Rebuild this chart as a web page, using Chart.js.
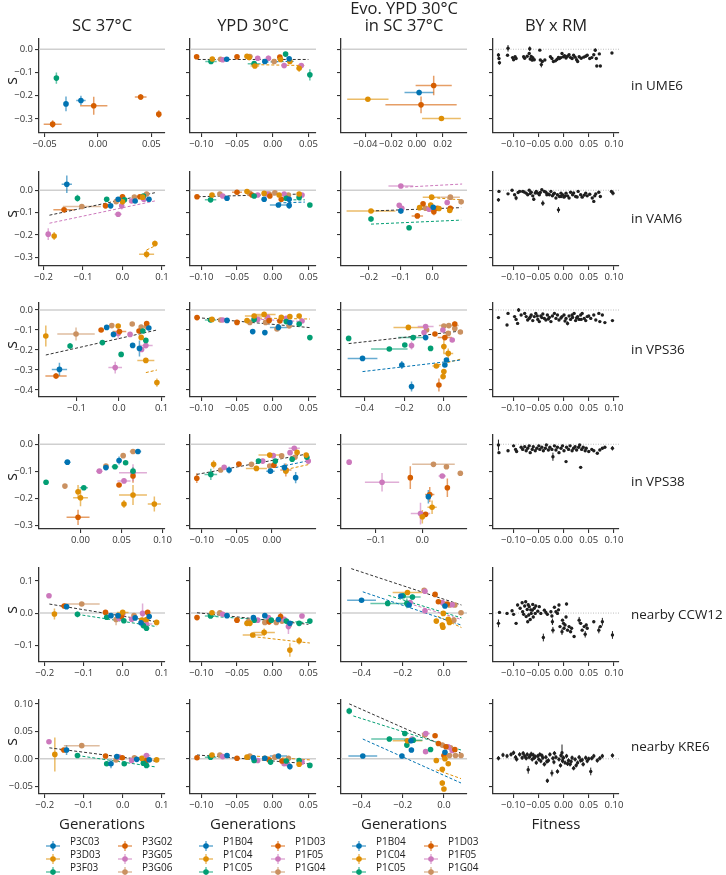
<!DOCTYPE html>
<html lang="en">
<head>
<meta charset="utf-8">
<title>s vs generations</title>
<script src="https://cdn.jsdelivr.net/npm/chart.js@4.4.1/dist/chart.umd.min.js"></script>
<style>
  html, body { margin: 0; padding: 0; background: #fff; }
  #fig { position: relative; width: 726px; height: 875px; overflow: hidden; font-family: "Open Sans", "DejaVu Sans", sans-serif; color: #222; }
  #fig canvas { position: absolute; }
  .txt { position: absolute; white-space: nowrap; line-height: 1; }
  .leg { position: absolute; }
</style>
</head>
<body>
<div id="fig"></div>
<script>
// ==================== LABELS ====================
const ROW_NAMES = ['in UME6', 'in VAM6', 'in VPS36', 'in VPS38', 'nearby CCW12', 'nearby KRE6'];
const COL_TITLES = [['SC 37°C'], ['YPD 30°C'], ['Evo. YPD 30°C', 'in SC 37°C'], ['BY x RM']];
const X_LABELS = ['Generations', 'Generations', 'Generations', 'Fitness'];
const STRAINS_SC = ['P3C03', 'P3D03', 'P3F03', 'P3G02', 'P3G05', 'P3G06'];
const STRAINS_YPD = ['P1B04', 'P1C04', 'P1C05', 'P1D03', 'P1F05', 'P1G04'];

// ==================== AXES ====================
const Y_RANGES = [[-0.36, 0.044], [-0.34, 0.082], [-0.435, 0.035], [-0.312, 0.034], [-0.152, 0.14], [-0.064, 0.107]];
const Y_TICKS = [
  [-0.3, -0.2, -0.1, 0], [-0.3, -0.2, -0.1, 0], [-0.4, -0.3, -0.2, -0.1, 0],
  [-0.3, -0.2, -0.1, 0], [-0.1, 0, 0.1], [-0.05, 0, 0.05, 0.1]
];
const X_FIT = [-0.1398, 0.110];
const X_FIT_TICKS = [-0.1, -0.05, 0, 0.05, 0.1];
const X_RANGES = [
  [[-0.0553, 0.0628], [-0.1158, 0.0606], [-0.0588, 0.0388], X_FIT],
  [[-0.2114, 0.1076], [-0.1158, 0.0606], [-0.2875, 0.1094], X_FIT],
  [[-0.188, 0.108], [-0.1158, 0.0606], [-0.5185, 0.1165], X_FIT],
  [[-0.0506, 0.103], [-0.1167, 0.063], [-0.1756, 0.0964], X_FIT],
  [[-0.2146, 0.1085], [-0.1158, 0.0606], [-0.4998, 0.112], X_FIT],
  [[-0.2146, 0.1085], [-0.1158, 0.0606], [-0.4998, 0.112], X_FIT]
];
const X_TICKS = [
  [[-0.05, 0, 0.05], [-0.1, -0.05, 0, 0.05], [-0.04, -0.02, 0, 0.02], X_FIT_TICKS],
  [[-0.2, -0.1, 0, 0.1], [-0.1, -0.05, 0, 0.05], [-0.2, -0.1, 0], X_FIT_TICKS],
  [[-0.1, 0, 0.1], [-0.1, -0.05, 0, 0.05], [-0.4, -0.2, 0], X_FIT_TICKS],
  [[0, 0.05, 0.1], [-0.1, -0.05, 0], [-0.1, 0], X_FIT_TICKS],
  [[-0.2, -0.1, 0, 0.1], [-0.1, -0.05, 0, 0.05], [-0.4, -0.2, 0], X_FIT_TICKS],
  [[-0.2, -0.1, 0, 0.1], [-0.1, -0.05, 0, 0.05], [-0.4, -0.2, 0], X_FIT_TICKS]
];

// ==================== DATA ====================
// evolved lines: [strain, generations, s, x error, s error]
// fits: [strain (-1 = all), x0, y0, x1, y1]
// BY x RM: [fitness, s, s error]
const UME6_SC = [
  [2,-0.039,-0.124,0.002,0.024],[0,-0.030,-0.235,0.002,0.032],[0,-0.016,-0.220,0.0044,0.020],
  [3,-0.004,-0.243,0.0128,0.039],[3,0.040,-0.205,0.0055,0.013],[3,0.057,-0.279,0.002,0.017],
  [3,-0.0425,-0.322,0.0084,0.017]
];
const UME6_YPD = [
  [3,-0.1065,-0.032,0.002,0.005],[2,-0.0864,-0.053,0.008,0.006],[1,-0.0846,-0.042,0.002,0.005],
  [5,-0.073,-0.043,0.002,0.004],[4,-0.070,-0.045,0.002,0.004],[0,-0.0644,-0.043,0.002,0.004],
  [3,-0.050,-0.032,0.003,0.004],[1,-0.036,-0.030,0.003,0.004],[5,-0.032,-0.031,0.004,0.004],
  [1,-0.033,-0.036,0.002,0.004],[2,-0.026,-0.062,0.009,0.010],[4,-0.021,-0.039,0.002,0.005],
  [1,-0.025,-0.072,0.006,0.008],[0,-0.011,-0.053,0.004,0.006],[4,-0.006,-0.039,0.003,0.012],
  [5,0.002,-0.053,0.004,0.006],[3,0.010,-0.034,0.003,0.006],[1,0.011,-0.044,0.003,0.006],
  [0,0.023,-0.041,0.003,0.004],[2,0.018,-0.021,0.002,0.006],[4,0.016,-0.070,0.003,0.012],
  [1,0.024,-0.053,0.004,0.005],[1,0.037,-0.082,0.003,0.016],[4,0.040,-0.070,0.003,0.006],
  [2,0.052,-0.110,0.002,0.024]
];
const UME6_YPD_FIT = [[-1,-0.105,-0.044,0.05,-0.044],[1,-0.03,-0.066,0.045,-0.070],[0,-0.01,-0.055,0.03,-0.052]];
const UME6_EVO = [
  [1,-0.038,-0.215,0.016,0.004],[0,0.0017,-0.186,0.0113,0.012],[3,0.013,-0.156,0.014,0.042],
  [3,0.0032,-0.239,0.0276,0.036],[1,0.019,-0.298,0.015,0.004]
];
const UME6_BXR = [
  [-0.129,-0.025,0.008],[-0.128,-0.040,0.006],[-0.127,-0.058,0.008],[-0.110,0.004,0.014],[-0.111,-0.026],
  [-0.101,-0.036],[-0.099,-0.045],[-0.096,-0.032],[-0.094,-0.040],[-0.079,-0.032],[-0.077,-0.039],
  [-0.072,-0.030],[-0.068,-0.018],[-0.067,0.002,0.010],[-0.066,-0.042],[-0.064,-0.031],[-0.062,-0.047],
  [-0.061,-0.036],[-0.058,-0.045],[-0.047,-0.004],[-0.046,-0.046],[-0.044,-0.066,0.012],[-0.042,-0.053],
  [-0.037,-0.046],[-0.026,-0.032],[-0.023,-0.040],[-0.020,-0.053],[-0.016,-0.050],[-0.013,-0.044],
  [-0.010,-0.035],[-0.008,-0.040],[-0.005,-0.036],[-0.003,-0.018],[0.000,-0.032],[0.002,-0.028],
  [0.005,-0.038],[0.008,-0.030],[0.011,-0.024],[0.014,-0.036],[0.017,-0.040],[0.020,-0.026],
  [0.023,-0.034],[0.026,-0.045],[0.028,-0.053],[0.031,-0.032],[0.035,-0.039],[0.040,-0.034],
  [0.044,-0.030],[0.047,-0.026],[0.052,-0.040],[0.056,-0.036],[0.060,-0.024],[0.063,-0.004,0.008],
  [0.065,-0.040],[0.066,-0.072],[0.071,-0.020],[0.073,-0.072],[0.096,-0.016]
];

const VAM6_SC = [
  [0,-0.141,0.027,0.013,0.039],[2,-0.114,-0.036,0.003,0.016],[3,-0.148,-0.088,0.027,0.006],
  [5,-0.103,-0.073,0.048,0.005],[2,-0.040,-0.040,0.003,0.005],[3,-0.043,-0.070,0.004,0.005],
  [0,-0.030,-0.070,0.003,0.005],[5,-0.016,-0.051,0.004,0.005],[4,-0.011,-0.108,0.009,0.006],
  [4,-0.002,-0.070,0.003,0.016],[3,0.000,-0.029,0.007,0.012],[1,0.000,-0.052,0.003,0.008],
  [0,-0.011,-0.040,0.003,0.005],[2,0.005,-0.043,0.003,0.006],[0,0.032,-0.048,0.004,0.005],
  [5,0.030,-0.031,0.004,0.005],[4,0.023,-0.048,0.004,0.005],[3,0.044,-0.029,0.003,0.005],
  [1,0.051,-0.031,0.004,0.005],[2,0.053,-0.026,0.003,0.005],[4,0.054,-0.040,0.004,0.005],
  [0,0.067,-0.040,0.003,0.005],[5,0.061,-0.017,0.004,0.006],[1,0.082,-0.239,0.003,0.013],
  [1,0.061,-0.287,0.019,0.018],[4,-0.188,-0.197,0.006,0.026],[1,-0.173,-0.205,0.004,0.018]
];
const VAM6_SC_FIT = [[-1,-0.185,-0.112,0.082,-0.011],[4,-0.185,-0.148,0.082,-0.048],[1,0.061,-0.268,0.082,-0.250]];
const VAM6_YPD = [
  [3,-0.106,-0.029,0.002,0.004],[2,-0.087,-0.043,0.008,0.005],[1,-0.085,-0.021,0.002,0.004],
  [5,-0.074,-0.017,0.002,0.004],[4,-0.070,-0.026,0.002,0.004],[0,-0.064,-0.036,0.002,0.004],
  [3,-0.050,-0.009,0.007,0.004],[1,-0.036,-0.006,0.003,0.004],[5,-0.032,-0.014,0.003,0.004],
  [3,-0.029,-0.021,0.002,0.004],[2,-0.026,-0.026,0.003,0.004],[4,-0.021,-0.021,0.002,0.004],
  [1,-0.012,-0.014,0.003,0.004],[0,-0.012,-0.040,0.002,0.005],[5,-0.005,-0.017,0.003,0.004],
  [4,-0.008,-0.017,0.003,0.004],[3,-0.004,-0.026,0.003,0.004],[5,0.003,-0.011,0.003,0.004],
  [1,0.009,-0.021,0.003,0.004],[0,0.008,-0.066,0.012,0.005],[3,0.012,-0.040,0.003,0.006],
  [4,0.016,-0.017,0.003,0.004],[2,0.019,-0.036,0.003,0.004],[0,0.023,-0.040,0.003,0.004],
  [0,0.023,-0.068,0.003,0.016],[5,0.022,-0.021,0.003,0.004],[1,0.037,-0.017,0.003,0.004],
  [2,0.037,-0.032,0.003,0.004],[4,0.041,-0.021,0.003,0.004],[2,0.052,-0.066,0.002,0.005]
];
const VAM6_YPD_FIT = [[-1,-0.105,-0.029,0.04,-0.017],[2,0.015,-0.043,0.045,-0.043],[0,0.008,-0.057,0.045,-0.053]];
const VAM6_EVO = [
  [4,-0.099,0.019,0.039,0.004],[1,-0.193,-0.093,0.077,0.004],[2,-0.193,-0.129,0.003,0.012],
  [2,-0.073,-0.168,0.003,0.005],[0,-0.099,-0.093,0.004,0.012],[4,-0.104,-0.067,0.003,0.010],
  [4,-0.096,-0.081,0.004,0.005],[1,-0.040,-0.078,0.006,0.005],[3,-0.029,-0.061,0.004,0.005],
  [5,-0.021,-0.081,0.012,0.005],[3,-0.047,-0.115,0.018,0.005],[1,-0.002,-0.031,0.028,0.005],
  [1,-0.005,-0.066,0.004,0.010],[0,0.003,-0.076,0.004,0.008],[4,-0.010,-0.085,0.005,0.005],
  [3,0.005,-0.096,0.004,0.016],[3,0.016,-0.081,0.004,0.006],[1,0.021,-0.082,0.004,0.005],
  [5,0.057,-0.031,0.030,0.005],[4,0.047,-0.055,0.005,0.005],[3,0.057,-0.081,0.004,0.012],
  [5,0.091,-0.052,0.004,0.005],[1,0.055,-0.091,0.004,0.005]
];
const VAM6_EVO_FIT = [[-1,-0.193,-0.093,0.091,-0.078],[2,-0.193,-0.152,0.091,-0.134],[1,0.0,-0.033,0.091,-0.043],[4,-0.101,0.013,0.094,0.028]];
const VAM6_BXR = [
  [-0.128,-0.005],[-0.129,-0.043,0.008],[-0.110,-0.016],[-0.102,0.0],[-0.097,-0.020],[-0.094,-0.035,0.010],
  [-0.090,-0.010],[-0.087,-0.005],[-0.081,-0.005],[-0.078,-0.008],[-0.074,-0.013],[-0.071,-0.020],
  [-0.068,0.0],[-0.066,-0.015],[-0.064,-0.009],[-0.061,-0.025],[-0.059,-0.040,0.008],[-0.056,-0.012],
  [-0.054,-0.005],[-0.051,-0.013],[-0.048,-0.020],[-0.046,-0.010],[-0.043,0.002],[-0.041,-0.058,0.012],
  [-0.038,-0.005],[-0.035,-0.009],[-0.033,-0.020],[-0.031,-0.016],[-0.028,-0.020],[-0.025,-0.005],
  [-0.022,-0.025],[-0.020,-0.018],[-0.018,-0.013],[-0.015,-0.035],[-0.012,-0.020],[-0.010,-0.088,0.013],
  [-0.008,-0.028],[-0.005,-0.013],[-0.005,-0.028],[-0.002,-0.020],[0.001,-0.031],[0.003,-0.025],
  [0.005,-0.013],[0.008,-0.025],[0.011,-0.035],[0.014,-0.009],[0.018,-0.020],[0.020,-0.012],
  [0.024,-0.028],[0.027,-0.030],[0.029,-0.005],[0.034,-0.020],[0.037,-0.031],[0.041,-0.022],
  [0.044,-0.013],[0.047,-0.025],[0.052,-0.018],[0.057,-0.035],[0.060,-0.050],[0.062,-0.025],
  [0.064,-0.016],[0.070,-0.009],[0.073,-0.028],[0.095,-0.005],[0.098,-0.013,0.010]
];

const VPS36_SC = [
  [1,-0.172,-0.130,0.003,0.052],[5,-0.101,-0.120,0.044,0.033],[2,-0.115,-0.180,0.003,0.015],
  [0,-0.140,-0.297,0.018,0.033],[3,-0.148,-0.330,0.025,0.015],[3,-0.042,-0.100,0.006,0.006],
  [0,-0.029,-0.087,0.003,0.006],[5,-0.017,-0.078,0.003,0.006],[0,-0.013,-0.122,0.003,0.006],
  [2,-0.039,-0.163,0.003,0.006],[1,-0.002,-0.080,0.003,0.006],[3,0.001,-0.108,0.016,0.008],
  [4,-0.002,-0.117,0.004,0.029],[4,-0.009,-0.288,0.016,0.029],[2,0.005,-0.222,0.003,0.006],
  [4,0.026,-0.122,0.003,0.006],[5,0.031,-0.070,0.003,0.006],[0,0.032,-0.177,0.003,0.006],
  [3,0.047,-0.105,0.003,0.006],[0,0.048,-0.192,0.004,0.040],[1,0.052,-0.137,0.003,0.008],
  [2,0.056,-0.105,0.003,0.006],[5,0.052,-0.085,0.003,0.006],[4,0.053,-0.197,0.003,0.010],
  [4,0.063,-0.178,0.016,0.006],[2,0.063,-0.152,0.003,0.008],[3,0.065,-0.068,0.003,0.008],
  [5,0.065,-0.083,0.003,0.006],[0,0.070,-0.090,0.003,0.006],[1,0.063,-0.252,0.020,0.006],
  [1,0.089,-0.363,0.003,0.021]
];
const VPS36_SC_FIT = [[-1,-0.172,-0.225,0.089,-0.100],[1,0.063,-0.313,0.089,-0.300]];
const VPS36_YPD = [
  [3,-0.106,-0.038,0.002,0.004],[2,-0.087,-0.050,0.008,0.005],[1,-0.085,-0.047,0.002,0.004],
  [5,-0.073,-0.050,0.002,0.004],[4,-0.070,-0.050,0.002,0.004],[0,-0.064,-0.052,0.002,0.004],
  [3,-0.050,-0.062,0.003,0.004],[1,-0.036,-0.053,0.003,0.004],[5,-0.032,-0.062,0.003,0.004],
  [1,-0.026,-0.030,0.013,0.005],[2,-0.026,-0.047,0.003,0.006],[0,-0.028,-0.108,0.002,0.005],
  [4,-0.021,-0.047,0.003,0.004],[1,-0.012,-0.022,0.016,0.006],[0,-0.011,-0.113,0.002,0.005],
  [4,-0.007,-0.037,0.003,0.006],[5,-0.010,-0.062,0.003,0.004],[3,-0.005,-0.053,0.003,0.004],
  [5,0.006,-0.095,0.003,0.006],[0,0.008,-0.087,0.012,0.005],[3,0.010,-0.055,0.003,0.005],
  [1,0.012,-0.037,0.003,0.004],[2,0.019,-0.058,0.003,0.004],[4,0.019,-0.042,0.003,0.004],
  [5,0.023,-0.080,0.003,0.004],[0,0.024,-0.063,0.003,0.004],[1,0.024,-0.033,0.003,0.004],
  [1,0.037,-0.030,0.003,0.004],[2,0.037,-0.070,0.003,0.005],[4,0.041,-0.055,0.003,0.004],
  [2,0.052,-0.138,0.002,0.007]
];
const VPS36_YPD_FIT = [[-1,-0.106,-0.038,0.052,-0.088],[1,-0.026,-0.040,0.052,-0.045],[4,-0.03,-0.045,0.045,-0.058]];
const VPS36_EVO = [
  [2,-0.480,-0.142,0.004,0.012],[0,-0.410,-0.242,0.075,0.005],[1,-0.179,-0.087,0.075,0.005],
  [4,-0.092,-0.083,0.040,0.005],[5,-0.087,-0.100,0.005,0.005],[4,-0.100,-0.113,0.005,0.005],
  [2,-0.155,-0.138,0.075,0.006],[0,-0.092,-0.138,0.005,0.005],[2,-0.197,-0.175,0.005,0.005],
  [2,-0.275,-0.195,0.092,0.006],[4,-0.163,-0.178,0.005,0.020],[2,-0.067,-0.192,0.005,0.005],
  [0,-0.212,-0.275,0.005,0.020],[0,-0.163,-0.383,0.005,0.025],[4,-0.005,-0.100,0.005,0.005],
  [5,0.000,-0.080,0.005,0.005],[3,-0.045,-0.120,0.008,0.005],[3,0.005,-0.138,0.036,0.012],
  [5,0.022,-0.117,0.005,0.005],[4,0.042,-0.150,0.005,0.005],[5,0.025,-0.078,0.050,0.005],
  [3,0.055,-0.070,0.005,0.012],[5,0.055,-0.092,0.005,0.005],[5,0.083,-0.110,0.005,0.005],
  [1,0.000,-0.183,0.005,0.033],[1,0.022,-0.217,0.025,0.025],[1,-0.038,-0.280,0.020,0.010],
  [0,0.005,-0.275,0.005,0.005],[0,0.013,-0.250,0.005,0.005],[1,0.000,-0.308,0.005,0.008],
  [1,-0.004,-0.333,0.005,0.008],[3,-0.025,-0.375,0.005,0.033]
];
const VPS36_EVO_FIT = [[-1,-0.48,-0.168,0.087,-0.105],[0,-0.41,-0.308,0.087,-0.250],[1,-0.03,-0.275,0.087,-0.245]];
const VPS36_BXR = [
  [-0.129,-0.038],[-0.112,-0.075],[-0.110,-0.017],[-0.097,-0.033],[-0.094,-0.047],[-0.091,-0.067],
  [-0.089,0.0,0.010],[-0.084,-0.025],[-0.077,-0.017],[-0.074,-0.033],[-0.071,-0.050],[-0.068,-0.042],
  [-0.066,-0.035],[-0.064,-0.025],[-0.061,-0.053],[-0.058,-0.033],[-0.055,-0.017],[-0.052,-0.030],
  [-0.051,-0.047],[-0.048,-0.058],[-0.045,-0.030],[-0.043,-0.038],[-0.041,-0.020],[-0.038,-0.042],
  [-0.035,-0.050],[-0.032,-0.025],[-0.030,-0.045],[-0.028,-0.037],[-0.025,-0.058],[-0.022,-0.030],
  [-0.018,-0.017],[-0.015,-0.042],[-0.012,-0.025],[-0.009,-0.050],[-0.005,-0.040],[-0.003,-0.033],
  [0.001,-0.025],[0.003,-0.055],[0.005,-0.042],[0.008,-0.067,0.010],[0.011,-0.030],[0.014,-0.047],
  [0.017,-0.025],[0.018,-0.037],[0.021,-0.017],[0.024,-0.053],[0.026,-0.040],[0.028,-0.033],
  [0.031,-0.047],[0.034,-0.025],[0.035,-0.047],[0.037,-0.017],[0.041,-0.042],[0.044,-0.053],
  [0.047,-0.033],[0.050,-0.030],[0.054,-0.042],[0.060,-0.025],[0.064,-0.050],[0.070,-0.017],
  [0.072,-0.058],[0.077,-0.025],[0.082,-0.063],[0.097,-0.053]
];

const VPS38_SC = [
  [2,-0.042,-0.140,0.002,0.006],[0,-0.016,-0.066,0.004,0.006],[5,-0.019,-0.154,0.002,0.006],
  [1,-0.003,-0.175,0.003,0.025],[1,0.000,-0.197,0.009,0.031],[2,0.004,-0.160,0.005,0.006],
  [3,-0.003,-0.269,0.014,0.028],[4,0.023,-0.099,0.004,0.006],[0,0.031,-0.086,0.003,0.006],
  [5,0.031,-0.080,0.003,0.006],[2,0.042,-0.083,0.004,0.006],[0,0.047,-0.060,0.002,0.015],
  [5,0.052,-0.042,0.003,0.006],[2,0.055,-0.068,0.002,0.006],[5,0.064,-0.027,0.004,0.006],
  [0,0.070,-0.027,0.004,0.006],[2,0.064,-0.099,0.003,0.015],[4,0.064,-0.105,0.017,0.031],
  [3,0.064,-0.117,0.002,0.025],[4,0.053,-0.135,0.008,0.008],[3,0.047,-0.150,0.003,0.008],
  [1,0.064,-0.187,0.017,0.037],[1,0.053,-0.220,0.002,0.015],[1,0.090,-0.220,0.008,0.028]
];
const VPS38_YPD = [
  [3,-0.107,-0.125,0.002,0.018],[2,-0.087,-0.111,0.009,0.021],[1,-0.083,-0.074,0.002,0.015],
  [5,-0.073,-0.095,0.002,0.006],[4,-0.068,-0.085,0.003,0.006],[0,-0.061,-0.095,0.002,0.013],
  [3,-0.047,-0.073,0.004,0.006],[5,-0.029,-0.074,0.003,0.006],[1,-0.022,-0.089,0.015,0.006],
  [2,-0.019,-0.062,0.003,0.006],[4,-0.013,-0.062,0.003,0.006],[1,-0.003,-0.040,0.016,0.006],
  [4,0.002,-0.042,0.003,0.006],[0,-0.002,-0.099,0.006,0.006],[5,-0.003,-0.080,0.003,0.006],
  [3,0.003,-0.077,0.003,0.006],[2,0.005,-0.062,0.003,0.006],[5,0.014,-0.043,0.003,0.006],
  [0,0.018,-0.086,0.003,0.015],[3,0.020,-0.095,0.008,0.024],[1,0.020,-0.099,0.003,0.006],
  [2,0.029,-0.055,0.003,0.006],[4,0.026,-0.031,0.003,0.006],[4,0.032,-0.015,0.008,0.006],
  [1,0.036,-0.030,0.003,0.006],[5,0.033,-0.048,0.003,0.006],[0,0.034,-0.123,0.003,0.021],
  [1,0.049,-0.040,0.003,0.006],[2,0.050,-0.048,0.003,0.006],[4,0.052,-0.062,0.003,0.006]
];
const VPS38_YPD_FIT = [[-1,-0.107,-0.111,0.050,-0.036],[0,0.005,-0.086,0.050,-0.062],[1,0.02,-0.093,0.052,-0.075]];
const VPS38_EVO = [
  [4,-0.158,-0.066,0.003,0.009],[4,-0.087,-0.140,0.037,0.034],[3,-0.026,-0.123,0.004,0.042],
  [5,0.024,-0.074,0.046,0.005],[5,0.052,-0.083,0.005,0.005],[5,0.082,-0.107,0.004,0.006],
  [4,0.043,-0.117,0.008,0.006],[3,0.054,-0.160,0.003,0.034],[0,0.013,-0.193,0.003,0.025],
  [3,0.016,-0.185,0.010,0.028],[1,0.021,-0.232,0.010,0.025],[4,-0.004,-0.255,0.021,0.040],
  [1,0.000,-0.267,0.004,0.025],[3,0.007,-0.258,0.004,0.006]
];
const VPS38_BXR = [
  [-0.129,-0.003,0.020],[-0.128,-0.031],[-0.110,-0.024],[-0.099,-0.006],[-0.095,-0.019],[-0.093,-0.027],
  [-0.084,-0.011],[-0.081,-0.019],[-0.077,-0.009],[-0.074,-0.024],[-0.071,-0.015],[-0.068,-0.006],
  [-0.066,-0.031],[-0.062,-0.019],[-0.060,-0.009],[-0.056,-0.024],[-0.053,-0.015],[-0.049,-0.006],
  [-0.047,-0.019],[-0.043,-0.011],[-0.040,-0.024],[-0.036,-0.015],[-0.034,-0.003],[-0.030,-0.021],
  [-0.027,-0.011],[-0.023,-0.019],[-0.021,-0.046,0.015],[-0.018,-0.006],[-0.015,-0.021],[-0.012,-0.011],
  [-0.009,-0.031],[-0.005,-0.015],[-0.002,-0.006],[0.001,-0.024],[0.005,-0.064],[0.006,-0.011],
  [0.010,-0.019],[0.013,-0.006],[0.017,-0.024],[0.020,-0.015],[0.023,-0.009],[0.026,-0.021],
  [0.030,-0.011],[0.032,-0.003],[0.034,-0.085],[0.036,-0.019],[0.039,-0.011],[0.043,-0.024],
  [0.045,-0.015],[0.050,-0.027],[0.056,-0.019],[0.060,-0.024],[0.067,-0.033],[0.072,-0.021],
  [0.077,-0.015],[0.082,-0.011],[0.097,-0.015,0.008]
];

const CCW12_SC = [
  [4,-0.189,0.054,0.005,0.005],[1,-0.175,-0.003,0.003,0.017],[3,-0.150,0.022,0.009,0.005],
  [0,-0.144,0.020,0.004,0.005],[5,-0.105,0.028,0.046,0.005],[2,-0.116,-0.004,0.003,0.009],
  [3,-0.044,0.002,0.004,0.005],[2,-0.041,-0.013,0.003,0.005],[0,-0.030,-0.008,0.003,0.005],
  [5,-0.017,-0.020,0.004,0.018],[0,-0.012,-0.008,0.003,0.005],[4,-0.009,-0.017,0.003,0.005],
  [3,-0.003,-0.011,0.003,0.005],[1,0.000,0.002,0.015,0.005],[4,0.000,-0.004,0.003,0.005],
  [2,0.003,-0.024,0.003,0.006],[5,0.029,-0.008,0.003,0.005],[4,0.023,-0.019,0.003,0.005],
  [0,0.032,-0.015,0.003,0.005],[1,0.049,-0.022,0.003,0.005],[0,0.047,-0.030,0.003,0.005],
  [4,0.051,-0.001,0.003,0.031],[2,0.053,-0.039,0.003,0.005],[5,0.055,-0.024,0.003,0.005],
  [3,0.064,0.002,0.003,0.005],[4,0.061,-0.034,0.015,0.005],[2,0.061,-0.047,0.003,0.005],
  [0,0.068,-0.011,0.003,0.005],[1,0.061,-0.020,0.003,0.005],[1,0.087,-0.029,0.003,0.005]
];
const CCW12_SC_FIT = [[-1,-0.188,0.028,0.087,-0.027],[2,-0.116,-0.004,0.087,-0.042]];
const CCW12_YPD = [
  [3,-0.106,-0.014,0.002,0.004],[2,-0.087,-0.009,0.008,0.006],[1,-0.085,0.001,0.002,0.004],
  [5,-0.074,0.001,0.002,0.004],[4,-0.070,-0.004,0.002,0.004],[0,-0.064,-0.008,0.002,0.004],
  [3,-0.050,-0.022,0.004,0.005],[1,-0.036,-0.032,0.003,0.006],[1,-0.032,-0.032,0.003,0.006],
  [5,-0.034,-0.026,0.003,0.005],[0,-0.027,-0.014,0.003,0.005],[2,-0.026,-0.022,0.003,0.008],
  [4,-0.021,-0.022,0.003,0.005],[0,-0.011,-0.008,0.003,0.005],[5,-0.011,-0.029,0.003,0.005],
  [4,-0.006,-0.014,0.003,0.005],[3,-0.005,-0.027,0.003,0.010],[2,-0.002,-0.022,0.003,0.005],
  [5,0.005,-0.029,0.003,0.005],[0,0.008,-0.020,0.003,0.005],[3,0.011,-0.011,0.003,0.012],
  [5,0.013,-0.025,0.003,0.005],[4,0.016,-0.019,0.003,0.005],[2,0.019,-0.025,0.003,0.005],
  [4,0.022,-0.042,0.003,0.023],[5,0.023,-0.037,0.003,0.005],[0,0.024,-0.032,0.003,0.005],
  [2,0.037,-0.032,0.003,0.005],[4,0.041,-0.009,0.003,0.005],[2,0.052,-0.025,0.002,0.005],
  [1,-0.028,-0.068,0.014,0.005],[1,-0.012,-0.060,0.015,0.012],[1,0.024,-0.115,0.003,0.021],
  [1,0.037,-0.086,0.003,0.012]
];
const CCW12_YPD_FIT = [[-1,-0.106,0.001,0.050,-0.035],[1,-0.028,-0.073,0.052,-0.093],[2,-0.087,-0.010,0.050,-0.030]];
const CCW12_EVO = [
  [0,-0.400,0.040,0.070,0.005],[5,-0.096,0.071,0.005,0.005],[4,-0.092,0.068,0.005,0.005],
  [1,-0.177,0.064,0.072,0.005],[0,-0.209,0.053,0.005,0.005],[2,-0.198,0.054,0.005,0.005],
  [2,-0.153,0.050,0.040,0.008],[2,-0.273,0.030,0.084,0.006],[2,-0.180,0.030,0.005,0.015],
  [4,-0.164,0.033,0.005,0.005],[0,-0.169,0.025,0.005,0.005],[3,-0.043,0.058,0.005,0.005],
  [3,-0.027,0.035,0.005,0.005],[4,-0.008,0.033,0.005,0.005],[5,0.000,0.028,0.005,0.005],
  [0,0.005,0.022,0.005,0.005],[3,0.016,0.028,0.005,0.005],[5,0.027,0.025,0.005,0.005],
  [4,0.040,0.026,0.005,0.005],[5,0.053,0.025,0.005,0.005],[4,-0.092,0.007,0.005,0.005],
  [1,-0.003,-0.001,0.005,0.005],[5,0.083,0.001,0.005,0.005],[1,0.021,-0.019,0.005,0.005],
  [5,0.048,-0.022,0.005,0.005],[1,-0.037,-0.025,0.005,0.005],[1,-0.008,-0.037,0.005,0.008],
  [1,-0.005,-0.044,0.005,0.008],[1,0.027,-0.029,0.005,0.005]
];
const CCW12_EVO_FIT = [[-1,-0.45,0.138,0.085,0.025],[0,-0.394,0.066,0.083,-0.037],[2,-0.27,0.055,0.085,-0.015],[4,-0.17,0.030,0.085,-0.020],[1,-0.03,-0.010,0.085,-0.045]];
const CCW12_BXR = [
  [-0.129,-0.032,0.012],[-0.127,0.002],[-0.112,-0.001],[-0.102,0.007],[-0.099,-0.004],[-0.094,-0.032],
  [-0.091,0.025],[-0.086,0.015],[-0.082,0.032],[-0.081,0.004],[-0.079,-0.004],[-0.077,0.022],
  [-0.075,0.035],[-0.074,-0.011],[-0.072,0.011],[-0.071,-0.027],[-0.070,0.026],[-0.069,-0.006],
  [-0.068,0.020],[-0.066,-0.020],[-0.065,0.010],[-0.064,-0.001],[-0.062,0.009],[-0.061,0.027],
  [-0.060,-0.012],[-0.058,0.015],[-0.056,-0.001],[-0.055,0.022],[-0.051,0.006],[-0.048,0.020],
  [-0.045,-0.001],[-0.040,-0.076,0.012],[-0.038,0.009],[-0.035,0.002],[-0.032,-0.004],[-0.025,0.004],
  [-0.023,-0.009],[-0.022,-0.027,0.010],[-0.021,-0.053,0.010],[-0.018,0.018],[-0.015,0.004],[-0.012,-0.001],
  [-0.010,0.010],[-0.009,0.025],[-0.007,-0.042],[-0.003,-0.058,0.010],[-0.002,-0.022],[0.000,-0.032],
  [0.001,-0.047],[0.003,-0.037],[0.005,-0.012],[0.006,0.028],[0.008,-0.053],[0.011,-0.042],
  [0.014,-0.058],[0.016,-0.047],[0.021,-0.073],[0.031,-0.022,0.010],[0.034,-0.032],[0.037,-0.053],
  [0.041,-0.042],[0.043,-0.066,0.010],[0.045,-0.037],[0.047,-0.047],[0.060,-0.027],[0.070,-0.053,0.010],
  [0.073,-0.042],[0.077,-0.027,0.012],[0.097,-0.068,0.012]
];

const KRE6_SC = [
  [4,-0.189,0.031,0.005,0.003],[1,-0.174,0.008,0.003,0.031],[3,-0.151,0.016,0.009,0.003],
  [0,-0.144,0.016,0.003,0.009],[5,-0.105,0.024,0.046,0.003],[2,-0.116,0.006,0.003,0.003],
  [3,-0.044,0.005,0.004,0.003],[2,-0.041,-0.009,0.003,0.003],[0,-0.030,-0.009,0.003,0.008],
  [0,-0.015,0.004,0.003,0.003],[5,-0.017,-0.002,0.003,0.003],[4,-0.009,0.003,0.003,0.003],
  [3,-0.001,0.002,0.003,0.003],[2,0.004,-0.009,0.003,0.003],[5,0.030,0.002,0.003,0.003],
  [4,0.023,-0.003,0.003,0.003],[0,0.036,-0.001,0.003,0.003],[1,0.049,0.001,0.003,0.003],
  [5,0.053,-0.003,0.003,0.003],[2,0.053,-0.008,0.003,0.003],[4,0.061,0.006,0.010,0.003],
  [3,0.060,-0.003,0.003,0.003],[2,0.061,-0.012,0.003,0.003],[0,0.068,-0.002,0.003,0.003],
  [1,0.087,-0.002,0.003,0.003]
];
const KRE6_SC_FIT = [[-1,-0.188,0.020,0.087,-0.005],[2,-0.116,0.006,0.087,-0.015],[5,0.05,-0.001,0.087,-0.003]];
const KRE6_YPD = [
  [3,-0.106,0.002,0.002,0.003],[2,-0.087,0.003,0.008,0.003],[1,-0.085,0.007,0.002,0.003],
  [5,-0.074,0.007,0.002,0.003],[4,-0.070,0.004,0.002,0.003],[0,-0.064,0.006,0.002,0.003],
  [3,-0.050,0.001,0.003,0.003],[1,-0.036,0.003,0.003,0.003],[5,-0.032,0.005,0.003,0.003],
  [0,-0.027,0.002,0.003,0.003],[2,-0.026,-0.003,0.003,0.003],[4,-0.021,-0.003,0.003,0.003],
  [0,-0.011,0.001,0.003,0.003],[5,-0.011,0.001,0.003,0.003],[3,-0.005,-0.002,0.003,0.003],
  [2,-0.003,-0.006,0.003,0.003],[0,0.008,0.005,0.012,0.003],[5,0.003,0.003,0.003,0.003],
  [3,0.013,-0.004,0.003,0.004],[4,0.016,-0.009,0.003,0.004],[5,0.022,0.001,0.003,0.003],
  [4,0.020,-0.009,0.003,0.004],[0,0.024,-0.014,0.003,0.006],[2,0.019,-0.004,0.003,0.003],
  [2,0.037,-0.003,0.003,0.003],[4,0.041,-0.006,0.003,0.003],[1,0.037,-0.010,0.003,0.003],
  [2,0.052,-0.012,0.002,0.003]
];
const KRE6_YPD_FIT = [[-1,-0.106,0.007,0.050,-0.009],[1,-0.036,0.006,0.052,-0.002]];
const KRE6_EVO = [
  [2,-0.460,0.087,0.004,0.006],[0,-0.394,0.005,0.070,0.003],[2,-0.265,0.036,0.088,0.004],
  [2,-0.190,0.046,0.004,0.004],[0,-0.204,0.005,0.004,0.004],[1,-0.177,0.033,0.072,0.004],
  [0,-0.160,0.033,0.004,0.004],[4,-0.155,0.036,0.004,0.004],[2,-0.149,0.034,0.045,0.004],
  [2,-0.180,0.025,0.004,0.005],[0,-0.158,0.016,0.004,0.004],[5,-0.092,0.044,0.004,0.004],
  [4,-0.088,0.046,0.020,0.004],[3,-0.043,0.042,0.004,0.004],[2,-0.065,0.017,0.004,0.004],
  [4,-0.089,0.013,0.004,0.004],[3,-0.027,0.028,0.004,0.004],[5,-0.008,0.025,0.004,0.004],
  [3,0.010,0.022,0.004,0.004],[4,0.020,0.022,0.004,0.004],[5,0.032,0.020,0.004,0.004],
  [4,0.040,0.015,0.004,0.004],[3,0.053,0.017,0.004,0.004],[0,0.005,0.012,0.004,0.004],
  [3,0.000,0.006,0.004,0.004],[5,0.027,0.006,0.004,0.004],[5,0.056,0.006,0.004,0.004],
  [5,0.083,0.006,0.004,0.004],[1,-0.037,-0.003,0.004,0.004],[1,0.021,-0.009,0.004,0.004],
  [1,-0.008,-0.019,0.004,0.004],[1,-0.008,-0.044,0.004,0.005],[1,0.000,-0.055,0.004,0.004],
  [1,0.005,0.000,0.004,0.004]
];
const KRE6_EVO_FIT = [[-1,-0.46,0.100,0.083,0.010],[2,-0.44,0.078,0.083,0.016],[0,-0.394,0.036,0.083,-0.044],[1,-0.037,-0.020,0.083,-0.036]];
const KRE6_BXR = [
  [-0.129,0.001],[-0.120,0.007],[-0.112,0.005],[-0.104,0.008],[-0.099,0.011],[-0.095,0.003],
  [-0.093,-0.001],[-0.087,0.008],[-0.082,0.002],[-0.080,0.010],[-0.077,0.005],[-0.074,0.001],
  [-0.072,0.008],[-0.070,-0.020,0.007],[-0.068,0.003],[-0.066,0.006],[-0.064,0.009],[-0.062,-0.001],
  [-0.060,0.007],[-0.058,0.002],[-0.056,0.004],[-0.054,-0.007],[-0.051,0.005],[-0.049,-0.001],
  [-0.047,0.008],[-0.045,-0.004],[-0.043,0.006],[-0.041,0.002],[-0.038,-0.010],[-0.035,0.003],
  [-0.033,-0.005],[-0.032,-0.040],[-0.030,-0.003],[-0.027,0.008],[-0.023,-0.026,0.006],[-0.021,0.001],
  [-0.019,-0.006],[-0.018,0.010],[-0.015,0.003],[-0.012,-0.023],[-0.009,-0.001],[-0.006,-0.012],
  [-0.005,0.006],[-0.003,0.011,0.015],[-0.002,-0.004],[0.000,0.002],[0.003,-0.007],[0.006,0.005],
  [0.008,-0.009],[0.010,-0.003],[0.013,-0.010],[0.015,-0.005],[0.017,0.002],[0.020,-0.017],
  [0.023,-0.001],[0.025,-0.012],[0.028,-0.007],[0.031,0.003],[0.034,-0.003],[0.037,-0.002],
  [0.039,-0.010],[0.044,0.002],[0.047,-0.004],[0.050,0.000],[0.054,-0.023,0.007],[0.056,0.001],
  [0.060,0.005],[0.067,-0.003],[0.072,0.001],[0.077,0.005],[0.097,0.006]
];

const PANELS = [
  [UME6_SC, UME6_YPD, UME6_EVO, UME6_BXR],
  [VAM6_SC, VAM6_YPD, VAM6_EVO, VAM6_BXR],
  [VPS36_SC, VPS36_YPD, VPS36_EVO, VPS36_BXR],
  [VPS38_SC, VPS38_YPD, VPS38_EVO, VPS38_BXR],
  [CCW12_SC, CCW12_YPD, CCW12_EVO, CCW12_BXR],
  [KRE6_SC, KRE6_YPD, KRE6_EVO, KRE6_BXR]
];
const FITS = [
  [[], UME6_YPD_FIT, [], []],
  [VAM6_SC_FIT, VAM6_YPD_FIT, VAM6_EVO_FIT, []],
  [VPS36_SC_FIT, VPS36_YPD_FIT, VPS36_EVO_FIT, []],
  [[], VPS38_YPD_FIT, [], []],
  [CCW12_SC_FIT, CCW12_YPD_FIT, CCW12_EVO_FIT, []],
  [KRE6_SC_FIT, KRE6_YPD_FIT, KRE6_EVO_FIT, []]
];

// ==================== STYLE / LAYOUT ====================
const COLORS = ['#0173b2', '#de8f05', '#029e73', '#d55e00', '#cc78bc', '#ca9161'];
const COL_LEFT = [39, 190, 341, 493];
const ROW_TOP = [39, 172, 303, 435, 568, 700];
const PW = 126, PH = 94;
const AX_W = 40, AX_H = 20, PAD_T = 8, PAD_R = 16;
const FONT = '"Open Sans", "DejaVu Sans", sans-serif';
const fig = document.getElementById('fig');

function rgba(hex, a) {
  const n = parseInt(hex.slice(1), 16);
  return `rgba(${(n >> 16) & 255}, ${(n >> 8) & 255}, ${n & 255}, ${a})`;
}

function fmt(v, dec) {
  const s = Math.abs(v).toFixed(dec);
  return (v < -1e-9 ? '\u2212' : '') + s;
}

// --- reference line at s = 0 ---
const zeroLine = {
  id: 'zeroLine',
  beforeDatasetsDraw(chart, args, opts) {
    const { ctx, chartArea: a, scales: { y } } = chart;
    const py = y.getPixelForValue(0);
    ctx.save();
    ctx.strokeStyle = opts.dotted ? '#bdbdbd' : '#cfcfcf';
    ctx.lineWidth = opts.dotted ? 1 : 1.4;
    if (opts.dotted) ctx.setLineDash([1, 1.5]);
    ctx.beginPath();
    ctx.moveTo(a.left, py);
    ctx.lineTo(a.right, py);
    ctx.stroke();
    ctx.restore();
  }
};

// --- error bars from xe / ye on every point ---
const errorBars = {
  id: 'errorBars',
  beforeDatasetsDraw(chart) {
    const { ctx, chartArea: a, scales: { x, y } } = chart;
    ctx.save();
    ctx.beginPath();
    ctx.rect(a.left, a.top, a.right - a.left, a.bottom - a.top);
    ctx.clip();
    chart.data.datasets.forEach(ds => {
      if (!ds.errColor) return;
      ctx.strokeStyle = ds.errColor;
      ctx.lineWidth = ds.errWidth;
      ds.data.forEach(p => {
        const px = x.getPixelForValue(p.x), py = y.getPixelForValue(p.y);
        ctx.beginPath();
        if (p.xe) {
          ctx.moveTo(x.getPixelForValue(p.x - p.xe), py);
          ctx.lineTo(x.getPixelForValue(p.x + p.xe), py);
        }
        if (p.ye) {
          ctx.moveTo(px, y.getPixelForValue(p.y - p.ye));
          ctx.lineTo(px, y.getPixelForValue(p.y + p.ye));
        }
        ctx.stroke();
      });
    });
    ctx.restore();
  }
};

function axis(range, ticks, showLabels, fit) {
  const step = ticks.length > 1 ? Math.abs(ticks[1] - ticks[0]) : 0.1;
  const dec = step < 0.09 ? 2 : 1;
  return {
    type: 'linear',
    min: range[0],
    max: range[1],
    afterBuildTicks: s => { s.ticks = ticks.map(v => ({ value: v })); },
    afterFit: fit,
    ticks: {
      autoSkip: false, maxRotation: 0, padding: 2, color: '#333',
      font: { family: FONT, size: 9.5 },
      callback: v => showLabels ? fmt(v, dec) : ''
    },
    grid: { display: true, drawOnChartArea: false, drawTicks: true, tickLength: 4, color: '#333', lineWidth: 1.1 },
    border: { display: true, color: '#333', width: 1.3 }
  };
}

function buildDatasets(r, c) {
  const rows = PANELS[r][c];
  const datasets = [];
  if (c === 3) {
    datasets.push({
      data: rows.map(p => ({ x: p[0], y: p[1], ye: p.length > 2 ? p[2] : 0.004 })),
      backgroundColor: '#1f1f1f', borderWidth: 0, pointRadius: 1.7,
      errColor: '#1f1f1f', errWidth: 1, order: 0
    });
    return datasets;
  }
  COLORS.forEach((col, si) => {
    const pts = rows.filter(p => p[0] === si);
    if (!pts.length) return;
    datasets.push({
      data: pts.map(p => ({ x: p[1], y: p[2], xe: p[3], ye: p[4] })),
      backgroundColor: col, borderWidth: 0, pointRadius: 2.8,
      errColor: rgba(col, 0.6), errWidth: 1.5, order: 0
    });
  });
  FITS[r][c].forEach(f => {
    datasets.push({
      data: [{ x: f[1], y: f[2] }, { x: f[3], y: f[4] }],
      showLine: true, borderColor: f[0] < 0 ? '#333' : COLORS[f[0]],
      borderWidth: 1, borderDash: [3, 2], pointRadius: 0, fill: false, order: 5
    });
  });
  return datasets;
}

// ==================== PANELS ====================
function makePanel(r, c) {
  const canvas = document.createElement('canvas');
  const w = AX_W + PW + PAD_R, h = PAD_T + PH + AX_H;
  canvas.width = w; canvas.height = h;
  canvas.style.width = w + 'px'; canvas.style.height = h + 'px';
  canvas.style.left = (COL_LEFT[c] - AX_W) + 'px';
  canvas.style.top = (ROW_TOP[r] - PAD_T) + 'px';
  fig.appendChild(canvas);

  new Chart(canvas, {
    type: 'scatter',
    data: { datasets: buildDatasets(r, c) },
    options: {
      responsive: false,
      animation: false,
      devicePixelRatio: 1,
      layout: { padding: { top: PAD_T, right: PAD_R, left: 0, bottom: 0 } },
      plugins: { legend: { display: false }, tooltip: { enabled: false }, zeroLine: { dotted: c === 3 } },
      scales: {
        x: axis(X_RANGES[r][c], X_TICKS[r][c], true, s => { s.height = AX_H; }),
        y: axis(Y_RANGES[r], Y_TICKS[r], c === 0, s => { s.width = AX_W; })
      }
    },
    plugins: [zeroLine, errorBars]
  });
}

for (let r = 0; r < 6; r++) for (let c = 0; c < 4; c++) makePanel(r, c);

// ==================== TEXT ====================
function addText(str, x, y, size, anchor, rotate) {
  const d = document.createElement('div');
  d.className = 'txt';
  d.textContent = str;
  d.style.fontSize = size + 'px';
  d.style.left = x + 'px';
  d.style.top = y + 'px';
  const tx = anchor === 'left' ? '0' : '-50%';
  d.style.transform = `translate(${tx}, -50%)` + (rotate ? ` rotate(${rotate}deg)` : '');
  fig.appendChild(d);
}

COL_TITLES.forEach((lines, c) => {
  const cx = COL_LEFT[c] + PW / 2;
  lines.forEach((t, i) => addText(t, cx, lines.length === 2 ? 8 + i * 17 : 25, 16.5));
});
ROW_NAMES.forEach((t, r) => {
  addText(t, 631, ROW_TOP[r] + PH / 2, 13.4, 'left');
  addText('s', 11, ROW_TOP[r] + PH / 2 - 5, 16, 'center', -90);
});
X_LABELS.forEach((t, c) => addText(t, COL_LEFT[c] + PW / 2, 823, 15));

// --- legends ---
const LEG_X = [53, 206, 359];
const LEG_Y = [841, 854, 867];
[STRAINS_SC, STRAINS_YPD, STRAINS_YPD].forEach((names, c) => {
  names.forEach((name, i) => {
    const mx = LEG_X[c] + Math.floor(i / 3) * 72;
    const my = LEG_Y[i % 3];
    const col = COLORS[i];
    const box = document.createElement('div');
    box.className = 'leg';
    box.style.left = (mx - 8) + 'px';
    box.style.top = (my - 6) + 'px';
    box.innerHTML = `<svg width="16" height="12" viewBox="0 0 16 12">
      <line x1="1" y1="6" x2="15" y2="6" stroke="${rgba(col, 0.6)}" stroke-width="1.5"/>
      <line x1="8" y1="1" x2="8" y2="11" stroke="${rgba(col, 0.6)}" stroke-width="1.5"/>
      <circle cx="8" cy="6" r="2.8" fill="${col}"/></svg>`;
    fig.appendChild(box);
    addText(name, mx + 17, my, 10, 'left');
  });
});
</script>
</body>
</html>
